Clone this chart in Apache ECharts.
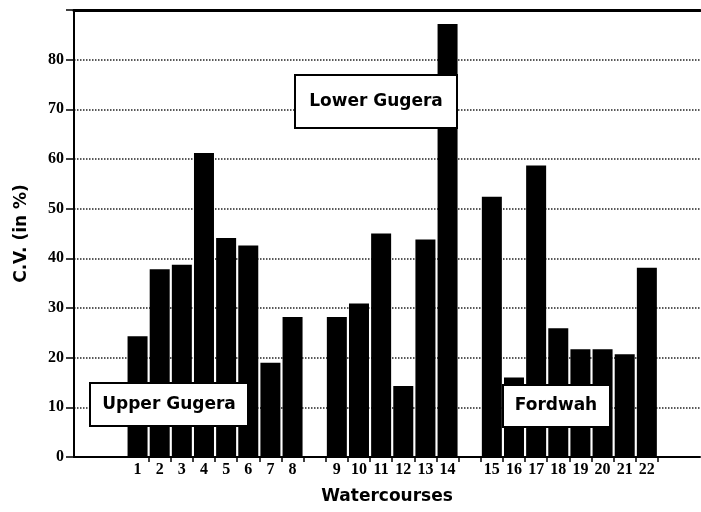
<!DOCTYPE html>
<html>
<head>
<meta charset="utf-8">
<script src="https://cdn.jsdelivr.net/npm/echarts@6.0.0/dist/echarts.min.js"></script>
<style>
  html, body { margin: 0; padding: 0; background: #fff; }
  #main { width: 701px; height: 512px; }
</style>
</head>
<body>
<div id="main"></div>
<script>
// watercourse numbers, in the order drawn
var watercourses = ['1', '2', '3', '4', '5', '6', '7', '8',
  '9', '10', '11', '12', '13', '14',
  '15', '16', '17', '18', '19', '20', '21', '22'];
// how many watercourses in each canal: Upper Gugera, Lower Gugera, Fordwah
var groupSizes = [8, 6, 8];
// coefficient of variation (%)
var cvValues = [24.3, 37.8, 38.7, 61.2, 44.1, 42.6, 19.0, 28.2,
  28.2, 30.9, 45.0, 14.3, 43.8, 87.2,
  52.4, 16.0, 58.7, 25.9, 21.7, 21.7, 20.7, 38.1];
var yTicks = [0, 10, 20, 30, 40, 50, 60, 70, 80, 90];

// slot of every bar on the x axis: one empty slot between canals
var slots = [];
var s = 0;
groupSizes.forEach(function (n) {
  for (var k = 0; k < n; k++) slots.push(s++);
  s++; // gap
});

var barData = [];
var labelAt = {};
var centers = [];
for (var i = 0; i < watercourses.length; i++) {
  var c = slots[i] + 0.5;
  barData.push([c, cvValues[i]]);
  labelAt[c] = watercourses[i];
  centers.push(c);
}
var ticks = [];
for (var t = 1; t <= slots[slots.length - 1] + 1; t++) ticks.push(t);

var chart = echarts.init(document.getElementById('main'));

var option = {
  animation: false,
  grid: { left: 74, right: 1, top: 10, bottom: 55 },
  xAxis: [{
    type: 'value',
    min: -2.37,
    max: 25.9,
    name: 'Watercourses',
    nameLocation: 'middle',
    nameGap: 31,
    nameTextStyle: { fontFamily: 'DejaVu Sans', fontWeight: 'bold', fontSize: 17, color: '#000' },
    axisLine: { lineStyle: { color: '#000', width: 2 } },
    axisTick: { customValues: ticks, length: 5, lineStyle: { color: '#000', width: 1.5 } },
    axisLabel: {
      customValues: centers,
      margin: 5,
      fontFamily: 'Liberation Serif',
      fontWeight: 'bold',
      fontSize: 16,
      color: '#000',
      formatter: function (v) { return labelAt[v] || ''; }
    },
    splitLine: { show: false }
  }, {
    type: 'value',
    position: 'top',
    min: -2.37,
    max: 25.9,
    axisLine: { show: true, onZero: false, lineStyle: { color: '#000', width: 3 } },
    axisTick: { show: false },
    axisLabel: { show: false },
    splitLine: { show: false }
  }],
  yAxis: {
    type: 'value',
    min: 0,
    max: 90,
    interval: 10,
    name: 'C.V. (in %)',
    nameLocation: 'middle',
    nameRotate: 90,
    nameGap: 44,
    nameTextStyle: { fontFamily: 'DejaVu Sans', fontWeight: 'bold', fontSize: 17, color: '#000' },
    axisLine: { show: true, onZero: false, lineStyle: { color: '#000', width: 2 } },
    axisTick: { show: true, length: 8, lineStyle: { color: '#000', width: 1.5 } },
    axisLabel: {
      margin: 10,
      fontFamily: 'Liberation Serif',
      fontWeight: 'bold',
      fontSize: 16,
      color: '#000',
      formatter: function (v) { return v === yTicks[yTicks.length - 1] ? '' : String(v); }
    },
    splitLine: { show: true, lineStyle: { color: '#222', type: 'dotted', width: 1.5 } }
  },
  series: [{
    type: 'bar',
    xAxisIndex: 0,
    data: barData,
    barWidth: 20,
    itemStyle: { color: '#000' }
  }],
  graphic: [
    { type: 'rect', z: 100, shape: { x: 90, y: 383, width: 158, height: 43 },
      style: { fill: '#fff', stroke: '#000', lineWidth: 2 } },
    { type: 'text', z: 101, x: 169, y: 405,
      style: { text: 'Upper Gugera', align: 'center', verticalAlign: 'middle',
        font: 'bold 17px "DejaVu Sans"', fill: '#000' } },
    { type: 'rect', z: 100, shape: { x: 295, y: 75, width: 162, height: 53 },
      style: { fill: '#fff', stroke: '#000', lineWidth: 2 } },
    { type: 'text', z: 101, x: 376, y: 102,
      style: { text: 'Lower Gugera', align: 'center', verticalAlign: 'middle',
        font: 'bold 17px "DejaVu Sans"', fill: '#000' } },
    { type: 'rect', z: 100, shape: { x: 503, y: 385, width: 107, height: 42 },
      style: { fill: '#fff', stroke: '#000', lineWidth: 2 } },
    { type: 'text', z: 101, x: 556, y: 406,
      style: { text: 'Fordwah', align: 'center', verticalAlign: 'middle',
        font: 'bold 17px "DejaVu Sans"', fill: '#000' } }
  ]
};

chart.setOption(option);
</script>
</body>
</html>
